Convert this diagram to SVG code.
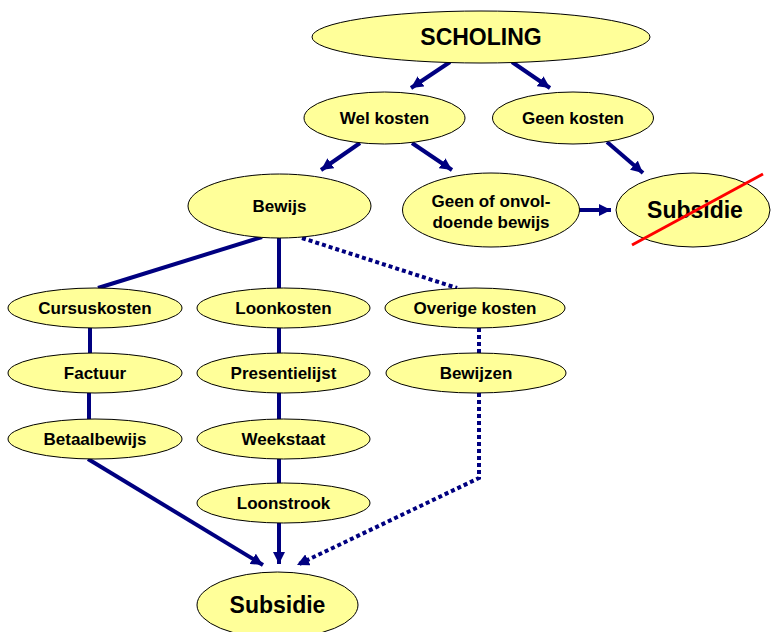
<svg xmlns="http://www.w3.org/2000/svg" width="771" height="632" viewBox="0 0 771 632">
<defs>
<marker id="ah" viewBox="0 0 10 10" refX="10" refY="5" markerWidth="3" markerHeight="3" markerUnits="strokeWidth" orient="auto">
<path d="M0,0 L10,5 L0,10 Z" fill="#000080"/>
</marker>
<style>
.n ellipse{fill:#FFFF99;stroke:#000;stroke-width:1}
.n text{font-family:"Liberation Sans",Arial,sans-serif;font-weight:bold;fill:#000;text-anchor:middle}
.s{font-size:17px}
.b{font-size:23px}
.c line,.c path{stroke:#000080;stroke-width:4;fill:none}
.c .d{stroke-dasharray:4 3}
</style>
</defs>
<rect width="771" height="632" fill="#fff"/>
<g id="connectors" class="c">
<line x1="450" y1="62" x2="411" y2="88" marker-end="url(#ah)"/>
<line x1="512" y1="62" x2="550" y2="88" marker-end="url(#ah)"/>
<line x1="360" y1="143" x2="321" y2="170" marker-end="url(#ah)"/>
<line x1="412" y1="143" x2="452" y2="170" marker-end="url(#ah)"/>
<line x1="607" y1="142" x2="643" y2="173" marker-end="url(#ah)"/>
<line x1="579" y1="210" x2="611" y2="210" marker-end="url(#ah)"/>
<line x1="262" y1="237" x2="98" y2="288"/>
<line x1="279" y1="237" x2="279" y2="288"/>
<line class="d" x1="302" y1="238" x2="457" y2="288"/>
<line x1="90" y1="328" x2="90" y2="353"/>
<line x1="89" y1="393" x2="89" y2="419"/>
<line x1="279" y1="328" x2="279" y2="353"/>
<line x1="279" y1="393" x2="279" y2="419"/>
<line x1="279" y1="459" x2="279" y2="483"/>
<line class="d" x1="479" y1="328" x2="479" y2="353"/>
<path class="d" d="M479,393 L479,478 L297,565" marker-end="url(#ah)"/>
<line x1="88" y1="459" x2="263" y2="565" marker-end="url(#ah)"/>
<line x1="279" y1="523" x2="279" y2="564" marker-end="url(#ah)"/>
</g>
<g id="scholing" class="n"><ellipse cx="481" cy="37" rx="169" ry="26"/><text class="b" x="481" y="45">SCHOLING</text></g>
<g id="wel-kosten" class="n"><ellipse cx="384.5" cy="118" rx="80.5" ry="26"/><text class="s" x="384.5" y="124">Wel kosten</text></g>
<g id="geen-kosten" class="n"><ellipse cx="573" cy="118" rx="80.5" ry="26"/><text class="s" x="573" y="124">Geen kosten</text></g>
<g id="bewijs" class="n"><ellipse cx="279.5" cy="206" rx="91.5" ry="32"/><text class="s" x="279.5" y="212">Bewijs</text></g>
<g id="geen-bewijs" class="n"><ellipse cx="491" cy="210" rx="88.5" ry="37"/><text class="s" x="491" y="207">Geen of onvol-</text><text class="s" x="491" y="228">doende bewijs</text></g>
<g id="subsidie-x" class="n"><ellipse cx="693" cy="210" rx="77" ry="37"/><text class="b" x="695" y="218">Subsidie</text>
<line x1="632" y1="245" x2="763" y2="174" stroke="#FF0000" stroke-width="3"/></g>
<g id="cursuskosten" class="n"><ellipse cx="95" cy="308" rx="87" ry="20"/><text class="s" x="95" y="314">Cursuskosten</text></g>
<g id="loonkosten" class="n"><ellipse cx="283.5" cy="308" rx="86.5" ry="20"/><text class="s" x="283.5" y="314">Loonkosten</text></g>
<g id="overige-kosten" class="n"><ellipse cx="475" cy="308" rx="90" ry="20"/><text class="s" x="475" y="314">Overige kosten</text></g>
<g id="factuur" class="n"><ellipse cx="95" cy="373" rx="87" ry="20"/><text class="s" x="95" y="379">Factuur</text></g>
<g id="presentielijst" class="n"><ellipse cx="283.5" cy="373" rx="86.5" ry="20"/><text class="s" x="283.5" y="379">Presentielijst</text></g>
<g id="bewijzen" class="n"><ellipse cx="476" cy="373" rx="90" ry="20"/><text class="s" x="476" y="379">Bewijzen</text></g>
<g id="betaalbewijs" class="n"><ellipse cx="95" cy="439" rx="87" ry="20"/><text class="s" x="95" y="445">Betaalbewijs</text></g>
<g id="weekstaat" class="n"><ellipse cx="283.5" cy="439" rx="86.5" ry="20"/><text class="s" x="283.5" y="445">Weekstaat</text></g>
<g id="loonstrook" class="n"><ellipse cx="283.5" cy="503" rx="86.5" ry="20"/><text class="s" x="283.5" y="509">Loonstrook</text></g>
<g id="subsidie" class="n"><ellipse cx="277.5" cy="605" rx="80.5" ry="33"/><text class="b" x="277.5" y="613">Subsidie</text></g>
</svg>
